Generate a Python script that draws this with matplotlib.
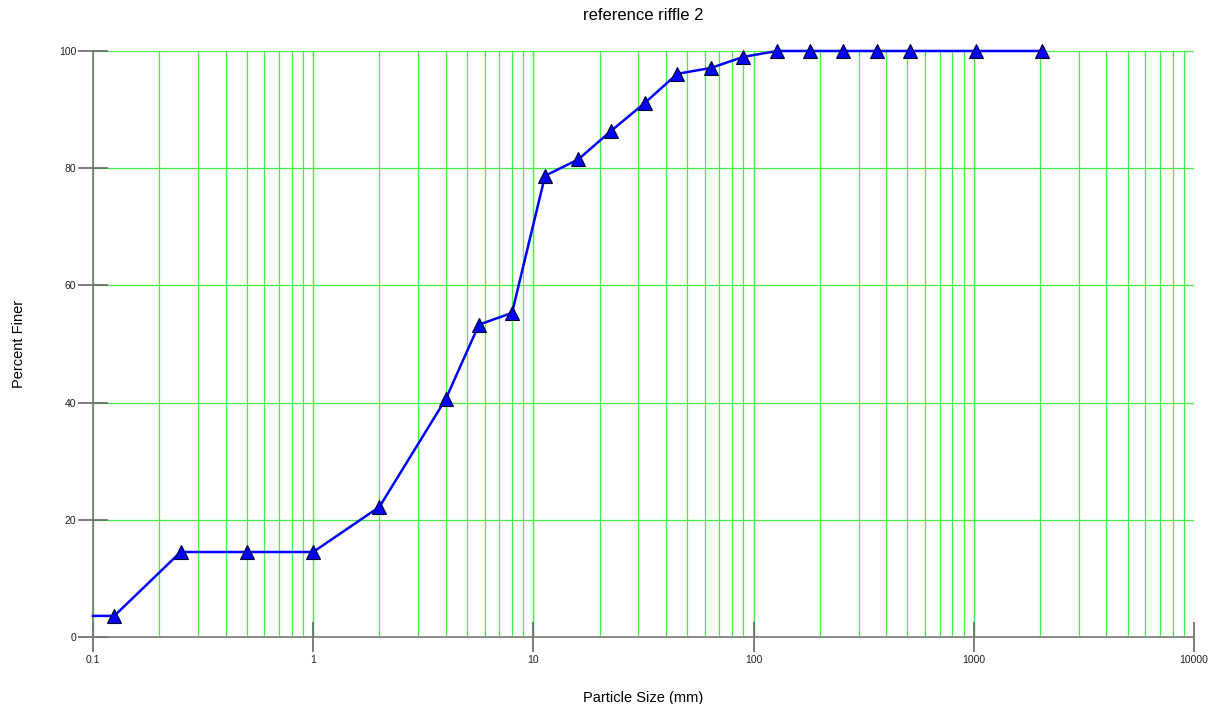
import matplotlib
matplotlib.use("Agg")
import matplotlib.pyplot as plt
import matplotlib.ticker as mticker
import numpy as np

plt.rcParams['font.family'] = ['Liberation Sans', 'DejaVu Sans']

# sieve sizes (mm) and percent finer
sizes = [0.1, 0.125, 0.25, 0.5, 1, 2, 4, 5.66, 8, 11.3, 16, 22.6, 32, 45, 64, 90,
         128, 180, 256, 362, 512, 1024, 2048]
finer = [3.6, 3.6, 14.5, 14.5, 14.5, 22.2, 40.6, 53.3, 55.3, 78.7, 81.5, 86.4, 91.1,
         96.1, 97.1, 99.0, 100, 100, 100, 100, 100, 100, 100]
x_ticks = [0.1, 1, 10, 100, 1000, 10000]
x_tick_labels = ['0.1', '1', '10', '100', '1000', '10000']
y_ticks = [0, 20, 40, 60, 80, 100]

fig = plt.figure(figsize=(12.15, 7.04), dpi=100)
ax = fig.add_axes([0.0765, 0.0952, 0.9062, 0.8324])

grid_col = '#44ee44'
ax.set_xscale('log')
ax.set_xlim(0.1, 10000)
ax.set_ylim(0, 100)

# grid lines (major and minor) in green
for dec in [0.1, 1, 10, 100, 1000]:
    for m in range(1, 11):
        ax.axvline(dec * m, color=grid_col, lw=0.9, zorder=1)
for y in y_ticks[1:]:
    ax.axhline(y, color=grid_col, lw=0.9, zorder=1)

ax.plot(sizes, finer, color='#0000ff', lw=1.8, zorder=3, clip_on=False)
ax.plot(sizes[1:], finer[1:], linestyle='none', marker='^', markersize=9.5,
        markerfacecolor='#0000ff', markeredgecolor='#000033', markeredgewidth=0.8,
        zorder=4, clip_on=False)

ax.xaxis.set_major_locator(mticker.FixedLocator(x_ticks))
ax.xaxis.set_major_formatter(mticker.FixedFormatter(x_tick_labels))
ax.xaxis.set_minor_locator(mticker.NullLocator())
ax.set_yticks(y_ticks)

ax.tick_params(axis='both', direction='inout', length=22, width=1.2, color='#666666',
               labelsize=7.5, labelcolor='#222222')
ax.tick_params(axis='x', pad=2)
ax.tick_params(axis='y', pad=1)

for s in ['top', 'right']:
    ax.spines[s].set_visible(False)
for s in ['left', 'bottom']:
    ax.spines[s].set_color('#777777')
    ax.spines[s].set_linewidth(1.2)
    ax.spines[s].set_zorder(2)

ax.set_title('reference riffle 2', fontsize=12, pad=22)
ax.set_xlabel('Particle Size (mm)', fontsize=10.5)
ax.xaxis.set_label_coords(0.5, -0.092)
ax.set_ylabel('Percent Finer', fontsize=10.5)
ax.yaxis.set_label_coords(-0.061, 0.5)

fig.savefig('out.png', dpi=100)
